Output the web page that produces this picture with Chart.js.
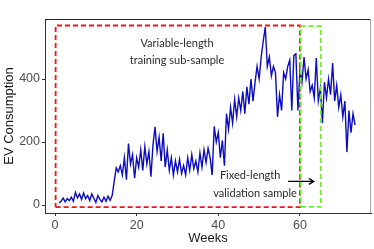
<!DOCTYPE html>
<html>
<head>
<meta charset="utf-8">
<script src="https://cdn.jsdelivr.net/npm/chart.js@4"></script>
<style>
  html, body { margin: 0; padding: 0; background: #fff; }
  #wrap { width: 374px; height: 249px; }
</style>
</head>
<body>
<div id="wrap"><canvas id="evChart" width="374" height="249"></canvas></div>
<script>
// weekly EV consumption, sampled every half week from week 1
const evConsumption = [
    6, 12, 22, 10, 20, 14, 25, 12, 40, 22,
    35, 18, 38, 20, 30, 14, 35, 22, 8, 30,
    18, 10, 25, 12, 28, 15, 30, 75, 118, 105,
    125, 95, 150, 80, 195, 130, 160, 85, 150, 120,
    175, 110, 185, 130, 170, 90, 190, 248, 170, 215,
    140, 228, 120, 175, 110, 150, 95, 140, 105, 145,
    100, 125, 95, 150, 110, 160, 115, 140, 105, 165,
    120, 175, 135, 180, 150, 95, 250, 200, 230, 150,
    205, 125, 290, 240, 310, 260, 335, 280, 340, 300,
    360, 290, 375, 320, 400, 330, 390, 440, 400, 470,
    520, 565, 440, 470, 410, 440, 420, 280, 350, 300,
    420, 400, 440, 460, 300, 475, 480, 300, 428, 390,
    470, 400, 430, 360, 380, 340, 467, 330, 370, 260,
    390, 340, 400, 350, 451, 330, 380, 310, 350, 280,
    330, 168, 300, 230, 290, 254
];
const weeks = evConsumption.map((_, i) => 1 + i * 0.5);

const xTicks = [0, 20, 40, 60];
const yTicks = [0, 200, 400];

// sample windows (weeks, consumption)
const trainingBox = { x0: 0.15, x1: 60, y0: -7, y1: 570 };
const validationBox = { x0: 60.2, x1: 65.1, y0: -6, y1: 568 };

function boxPath(b) {
    return [
        { x: b.x0, y: b.y0 }, { x: b.x1, y: b.y0 }, { x: b.x1, y: b.y1 },
        { x: b.x0, y: b.y1 }, { x: b.x0, y: b.y0 }
    ];
}

const notes = {
    id: "notes",
    afterDatasetsDraw(chart) {
        const { ctx, chartArea, scales: { x, y } } = chart;
        ctx.save();
        // panel top / right edges
        ctx.strokeStyle = "#222";
        ctx.lineWidth = 1;
        ctx.beginPath();
        ctx.moveTo(chartArea.left, chartArea.top + 0.5);
        ctx.lineTo(chartArea.right, chartArea.top + 0.5);
        ctx.stroke();
        ctx.strokeStyle = "#aaa";
        ctx.beginPath();
        ctx.moveTo(chartArea.right - 0.5, chartArea.top);
        ctx.lineTo(chartArea.right - 0.5, chartArea.bottom);
        ctx.stroke();

        ctx.fillStyle = "#2a2a2a";
        ctx.font = "11px Lato, 'Open Sans', sans-serif";
        ctx.textAlign = "center";
        ctx.textBaseline = "middle";
        ctx.fillText("Variable-length", x.getPixelForValue(29.9), y.getPixelForValue(514));
        ctx.fillText("training sub-sample", x.getPixelForValue(29.9), y.getPixelForValue(460));
        ctx.fillText("Fixed-length", x.getPixelForValue(47.8), y.getPixelForValue(95));
        ctx.fillText("validation sample", x.getPixelForValue(49), y.getPixelForValue(38));

        // arrow
        const ax0 = x.getPixelForValue(57.1), ax1 = x.getPixelForValue(63.4);
        const ay = y.getPixelForValue(75);
        ctx.strokeStyle = "#000";
        ctx.lineWidth = 1.2;
        ctx.beginPath();
        ctx.moveTo(ax0, ay);
        ctx.lineTo(ax1, ay);
        ctx.moveTo(ax1 - 5, ay - 3);
        ctx.lineTo(ax1, ay);
        ctx.lineTo(ax1 - 5, ay + 3);
        ctx.stroke();
        ctx.restore();
    }
};

const ctx = document.getElementById("evChart").getContext("2d");

new Chart(ctx, {
    type: "line",
    data: {
        datasets: [
            {
                data: weeks.map((w, i) => ({ x: w, y: evConsumption[i] })),
                borderColor: "#0c0cc0",
                borderWidth: 1.4,
                pointRadius: 0,
                tension: 0,
                order: 3
            },
            {
                data: boxPath(trainingBox),
                borderColor: "#ff0d0d",
                borderWidth: 1.8,
                borderDash: [5, 3],
                pointRadius: 0,
                order: 2
            },
            {
                data: boxPath(validationBox),
                borderColor: "#6cf02c",
                borderWidth: 1.8,
                borderDash: [5, 3],
                pointRadius: 0,
                order: 1
            }
        ]
    },
    options: {
        responsive: false,
        animation: false,
        layout: { padding: { top: 19, right: 3, left: 0, bottom: 0 } },
        plugins: { legend: { display: false }, tooltip: { enabled: false } },
        scales: {
            x: {
                type: "linear",
                min: -2.45,
                max: 77.4,
                afterFit: s => { s.height = 36; },
                afterBuildTicks: s => { s.ticks = xTicks.map(v => ({ value: v })); },
                grid: { display: true, drawOnChartArea: false, tickLength: 3, color: "#333" },
                border: { display: true, color: "#333", width: 1 },
                ticks: { color: "#4d4d4d", padding: 2, maxRotation: 0, font: { family: "'Liberation Sans', Arial", size: 12.5 } },
                title: { display: true, text: "Weeks", color: "#1a1a1a", padding: { top: 0, bottom: 3 }, font: { family: "'Liberation Sans', Arial", size: 13 } }
            },
            y: {
                min: -25.4,
                max: 590.6,
                afterFit: s => { s.width = 45; },
                afterBuildTicks: s => { s.ticks = yTicks.map(v => ({ value: v })); },
                grid: { display: true, drawOnChartArea: false, tickLength: 3, color: "#333" },
                border: { display: true, color: "#333", width: 1 },
                ticks: { color: "#4d4d4d", padding: 2, font: { family: "'Liberation Sans', Arial", size: 12.5 } },
                title: { display: true, text: "EV Consumption", color: "#1a1a1a", padding: { top: 2, bottom: 0 }, font: { family: "'Liberation Sans', Arial", size: 13 } }
            }
        }
    },
    plugins: [notes]
});
</script>
</body>
</html>
